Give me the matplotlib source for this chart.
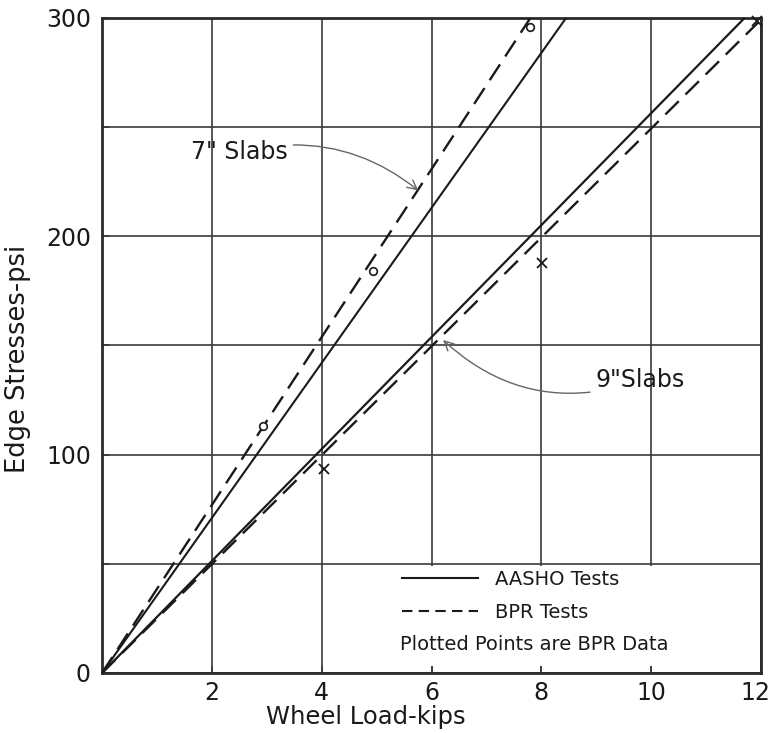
import matplotlib
matplotlib.use("Agg")
import matplotlib.pyplot as plt
import matplotlib.transforms as mtransforms
from matplotlib.lines import Line2D
from matplotlib.patches import Rectangle

# ---- data ----
load_7_aasho = [0, 8.45]
stress_7_aasho = [0, 300]
load_7_bpr = [0, 7.8]
stress_7_bpr = [0, 300]
load_9_aasho = [0, 11.7]
stress_9_aasho = [0, 300]
load_9_bpr = [0, 11.95]
stress_9_bpr = [0, 298]

pts7_load = [2.93, 4.94, 7.8]
pts7_stress = [113, 184, 296]
pts9_load = [4.04, 8.01, 11.93]
pts9_stress = [93.5, 188, 298.5]

x_ticks = [2, 4, 6, 8, 10, 12]
y_ticks = [0, 50, 100, 150, 200, 250, 300]
y_tick_labels = ["0", "", "100", "", "200", "", "300"]

plt.rcParams['font.family'] = ['DejaVu Sans']

fig = plt.figure(figsize=(7.72, 7.33), dpi=100)
ax = fig.add_axes([102/772, 1 - 673/733, 659/772, 655/733])

LC = "#1a1a1a"
DASH = (8, 4)

ax.plot(load_7_aasho, stress_7_aasho, color=LC, lw=1.5, zorder=3)
ax.plot(load_7_bpr, stress_7_bpr, color=LC, lw=1.7, dashes=DASH, zorder=3)
ax.plot(load_9_aasho, stress_9_aasho, color=LC, lw=1.6, zorder=3)
ax.plot(load_9_bpr, stress_9_bpr, color=LC, lw=1.7, dashes=DASH, zorder=3)

ax.plot(pts7_load, pts7_stress, ls="none", marker="o", ms=5.5, mfc="white",
        mec=LC, mew=1.2, zorder=4, clip_on=False)
ax.plot(pts9_load, pts9_stress, ls="none", marker="x", ms=7, mec=LC,
        mew=1.3, zorder=4, clip_on=False)

ax.set_xlim(0, 12)
ax.set_ylim(0, 300)
ax.set_xticks(x_ticks)
ax.set_xticklabels([str(v) for v in x_ticks])
ax.set_yticks(y_ticks)
ax.set_yticklabels(y_tick_labels)
ax.grid(True, color="#3a3a3a", lw=1.2)
ax.set_axisbelow(True)
ax.tick_params(direction="in", length=5, width=1.2, color="#3a3a3a",
               labelsize=17, pad=6, labelcolor="#1a1a1a")
ax.tick_params(axis="y", pad=8)
for s in ax.spines.values():
    s.set_linewidth(2)
    s.set_color("#2a2a2a")

# nudge the last x tick label so it stays inside the figure
last = ax.get_xticklabels()[-1]
last.set_transform(last.get_transform() +
                   mtransforms.ScaledTranslation(-6/100, 0, fig.dpi_scale_trans))

ax.set_xlabel("Wheel Load-kips", fontsize=17.5, color="#1a1a1a")
ax.xaxis.set_label_coords(0.40, -0.049)
ax.set_ylabel("Edge Stresses-psi", fontsize=18.5, color="#1a1a1a")
ax.yaxis.set_label_coords(-0.108, 0.48)

# annotations
ax.annotate('7" Slabs', xy=(5.76, 221), xytext=(2.5, 238.5),
            fontsize=17, ha="center", va="center", color="#1a1a1a",
            arrowprops=dict(arrowstyle="->", color="#666666", lw=1.0,
                            shrinkA=2, shrinkB=0,
                            connectionstyle="arc3,rad=-0.25"))
ax.annotate('9"Slabs', xy=(6.21, 152.5), xytext=(9.8, 134),
            fontsize=17, ha="center", va="center", color="#1a1a1a",
            arrowprops=dict(arrowstyle="->", color="#666666", lw=1.0,
                            shrinkA=2, shrinkB=0,
                            connectionstyle="arc3,rad=-0.3"))

# legend area
ax.add_patch(Rectangle((0.44, 0.011), 0.556, 0.152, transform=ax.transAxes,
                       facecolor="white", edgecolor="none", zorder=2))
handles = [Line2D([], [], color=LC, lw=1.5),
           Line2D([], [], color=LC, lw=1.5, dashes=(5, 3))]
leg = ax.legend(handles, ["AASHO Tests", "BPR Tests"], loc="upper left",
                bbox_to_anchor=(0.455, 0.158), frameon=False, fontsize=14,
                handlelength=3.9, handletextpad=0.9, labelspacing=0.75,
                borderpad=0, borderaxespad=0)
for t in leg.get_texts():
    t.set_color("#1a1a1a")
ax.text(0.452, 0.043, "Plotted Points are BPR Data", transform=ax.transAxes,
        fontsize=14, ha="left", va="center", color="#1a1a1a", zorder=5)

fig.savefig("out.png", dpi=100)
